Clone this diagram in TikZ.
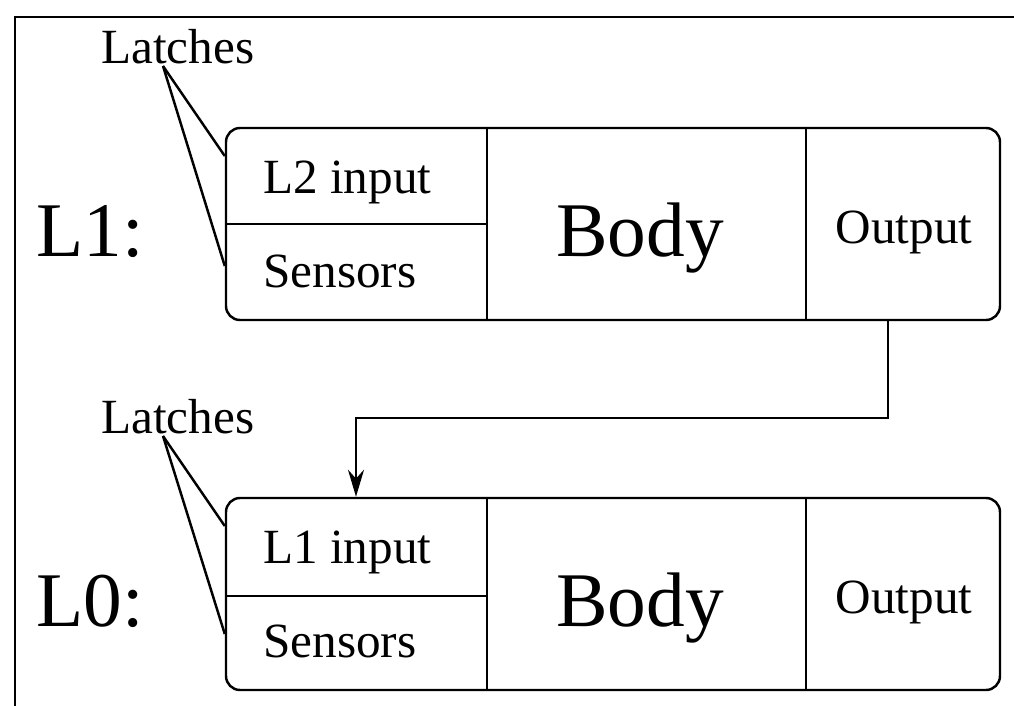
\documentclass[tikz,border=0pt]{standalone}
\usepackage{fontspec}
\setmainfont{Liberation Serif}
\usetikzlibrary{arrows.meta}

\begin{document}
\begin{tikzpicture}[x=0.1mm, y=-0.1mm, line width=0.7pt,
  layer/.style={draw, rounded corners=1.4mm, minimum width=77.4mm,
                minimum height=19.2mm, inner sep=0pt},
  sm/.style={font=\fontsize{14}{16}\selectfont, inner sep=0pt},
  lg/.style={font=\fontsize{22}{26}\selectfont, inner sep=0pt},
  arr/.style={-{Stealth[length=2.7mm, width=1.6mm]}}
]
\useasboundingbox (0,0) rectangle (1014,706);
% frame
\draw (15,706) -- (15,17) -- (1014,17);

% upper level
\node[layer] (b1) at (613,224) {};
\draw (b1.north -| 487,0) -- (b1.south -| 487,0);
\draw (b1.north -| 806,0) -- (b1.south -| 806,0);
\draw (b1.west |- 0,224) -- (487,224);
\node[lg, anchor=base west] (n1) at (35,256) {L1:};
\node[sm, anchor=base west] (in1) at (262,193) {L2 input};
\node[sm, anchor=base west] (se1) at (262,287) {Sensors};
\node[lg, anchor=base] (bd1) at (640,256) {Body};
\node[sm, anchor=base] (o1) at (904,243) {Output};
\node[sm, anchor=base west] (la1) at (100,63) {Latches};
\coordinate (lt1) at (163,66);
\draw (lt1) -- (b1.west |- 0,156);
\draw (lt1) -- (b1.west |- 0,266);

% lower level
\node[layer] (b2) at (613,594) {};
\draw (b2.north -| 487,0) -- (b2.south -| 487,0);
\draw (b2.north -| 806,0) -- (b2.south -| 806,0);
\draw (b2.west |- 0,596) -- (487,596);
\node[lg, anchor=base west] (n2) at (35,626) {L0:};
\node[sm, anchor=base west] (in2) at (262,563) {L1 input};
\node[sm, anchor=base west] (se2) at (262,657) {Sensors};
\node[lg, anchor=base] (bd2) at (640,626) {Body};
\node[sm, anchor=base] (o2) at (904,613) {Output};
\node[sm, anchor=base west] (la2) at (100,433) {Latches};
\coordinate (lt2) at (163,436);
\draw (lt2) -- (b2.west |- 0,526);
\draw (lt2) -- (b2.west |- 0,634);

% output of L1 feeds L0
\draw[arr] (b1.south -| 888,0) -- (888,418) -| (b2.north -| 356,0);
\end{tikzpicture}
\end{document}
